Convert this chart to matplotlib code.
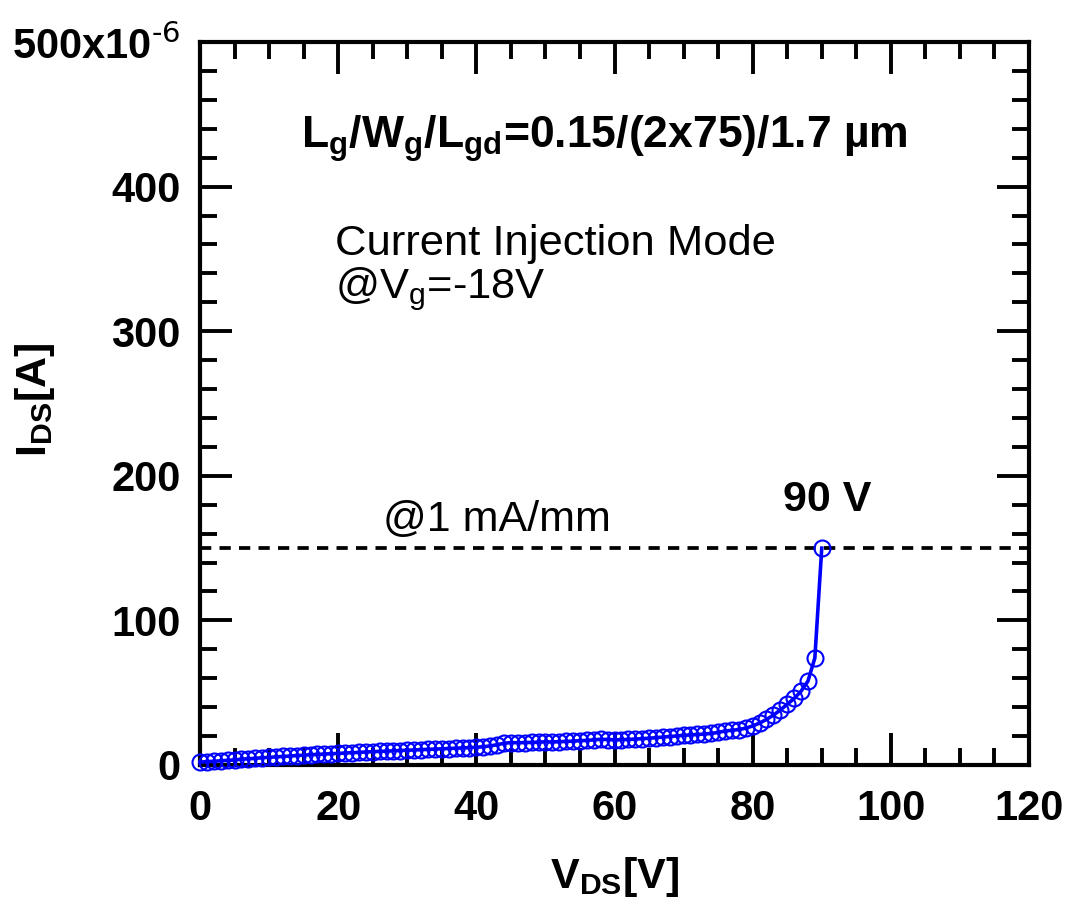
import numpy as np
import matplotlib
matplotlib.use('Agg')
import matplotlib.pyplot as plt
from matplotlib.ticker import MultipleLocator

plt.rcParams['font.family'] = ['Liberation Sans', 'DejaVu Sans']
plt.rcParams['mathtext.fontset'] = 'custom'
plt.rcParams['mathtext.default'] = 'regular'

# drain voltage sweep (V) and drain current (uA)
vds = list(range(0, 91))
ids_ua = [2.0, 2.3, 2.6, 2.9, 3.2, 3.5, 4.0, 4.3, 4.6, 5.0,
          5.3, 5.6, 5.9, 6.2, 6.5, 6.8, 7.1, 7.3, 7.6, 7.8,
          8.0, 8.3, 8.5, 8.7, 9.0, 9.2, 9.4, 9.6, 9.8, 10.0,
          10.2, 10.4, 10.6, 10.8, 11.0, 11.2, 11.4, 11.6, 11.8, 12.0,
          12.3, 12.6, 13.2, 14.0, 15.0, 15.5, 15.4, 15.5, 15.6, 15.8,
          16.0, 15.9, 16.1, 16.3, 16.5, 16.8, 17.0, 17.4, 17.8, 17.6,
          17.4, 17.5, 17.7, 17.9, 18.2, 18.5, 18.9, 19.3, 19.7, 20.1,
          20.5, 20.8, 21.1, 21.4, 21.8, 22.5, 23.5, 24.0, 24.5, 25.5,
          27.0, 29.0, 31.5, 34.5, 38.0, 42.0, 46.0, 51.0, 58.0, 74.0,
          150.0]
ids = np.array(ids_ua) * 1e-6

crit_current = 150e-6   # 1 mA/mm
xticks = [0, 20, 40, 60, 80, 100, 120]
yticks = [0, 100e-6, 200e-6, 300e-6, 400e-6, 500e-6]
ytick_labels = ['0', '100', '200', '300', '400', r'500x10$^{\text{-6}}$']

fig = plt.figure(figsize=(10.73, 9.08), dpi=100)
ax = fig.add_axes([0.1864, 0.1575, 0.7726, 0.7962])

ax.axhline(crit_current, color='black', lw=2.7, ls=(0, (3, 2.2)))
ax.plot(vds, ids, color='#0000ff', lw=2.6, marker='o', ms=11.5,
        mfc='none', mec='#0000ff', mew=1.5, clip_on=False, zorder=3)

ax.set_xlim(0, 120)
ax.set_ylim(0, 500e-6)
ax.set_xticks(xticks)
ax.set_xticklabels([str(t) for t in xticks])
ax.set_yticks(yticks)
ax.set_yticklabels(ytick_labels)
ax.xaxis.set_minor_locator(MultipleLocator(5))
ax.yaxis.set_minor_locator(MultipleLocator(20e-6))

ax.tick_params(which='both', direction='in', top=True, right=True, width=2.8)
ax.tick_params(which='major', length=23)
ax.tick_params(which='minor', length=12)
ax.tick_params(axis='x', which='major', pad=17)
ax.tick_params(axis='y', which='major', pad=14)
for lab in ax.get_xticklabels() + ax.get_yticklabels():
    lab.set_fontsize(30)
    lab.set_fontweight('bold')
for sp in ax.spines.values():
    sp.set_linewidth(3)

ax.set_xlabel('V$_{DS}$[V]', fontsize=31, fontweight='bold', labelpad=19)
ax.set_ylabel('I$_{DS}$[A]', fontsize=31, fontweight='bold')
ax.yaxis.set_label_coords(-0.172, 0.505)

ax.text(58.6, 427e-6, 'L$_g$/W$_g$/L$_{gd}$=0.15/(2x75)/1.7 \u00b5m',
        fontsize=32, fontweight='bold', ha='center', va='baseline')
ax.text(19.5, 353e-6, 'Current Injection Mode', fontsize=31.3, va='baseline')
ax.text(19.5, 323e-6, '@V$_g$=-18V', fontsize=31.3, va='baseline')
ax.text(26.5, 162e-6, '@1 mA/mm', fontsize=31, va='baseline')
ax.text(84.4, 176e-6, '90 V', fontsize=31, fontweight='bold', va='baseline')

fig.savefig('out.png', dpi=100)
